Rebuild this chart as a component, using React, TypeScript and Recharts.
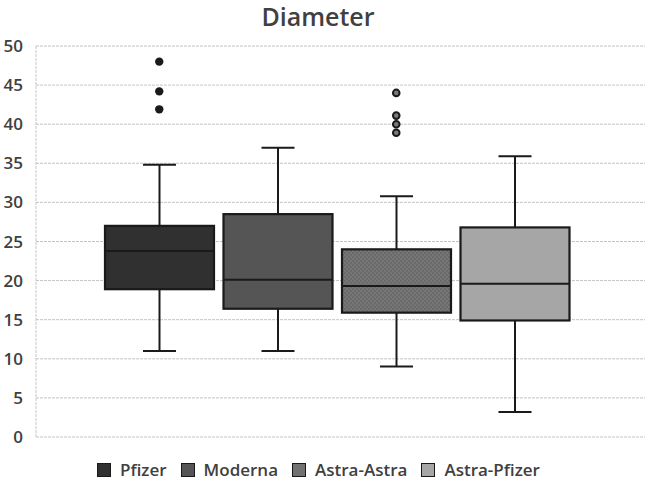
import React from 'react';
import { ComposedChart, Bar, Scatter, XAxis, YAxis, CartesianGrid } from 'recharts';

const categories = ['Pfizer', 'Moderna', 'Astra-Astra', 'Astra-Pfizer'];
const mins = [11, 11, 9, 3.2];
const q1s = [18.9, 16.4, 15.9, 14.9];
const medians = [23.8, 20.1, 19.3, 19.6];
const q3s = [27, 28.5, 24, 26.8];
const maxs = [34.8, 37, 30.8, 35.9];
const outliers: number[][] = [[48, 44.2, 41.9], [], [44, 41.1, 40, 38.9], []];
const yTicks = [0, 5, 10, 15, 20, 25, 30, 35, 40, 45, 50];

const fills = ['#303030', '#555555', 'url(#astraPattern)', '#a6a6a6'];
const legendFills = ['#303030', '#555555', '#727272', '#a6a6a6'];

const rows = categories.map((name, i) => {
  const row: Record<string, any> = {
    name,
    min: mins[i],
    q1: q1s[i],
    median: medians[i],
    q3: q3s[i],
    max: maxs[i],
    idx: i,
  };
  for (let k = 0; k < 4; k++) row['o' + k] = outliers[i][k] ?? null;
  return row;
});

const FONT = '"Open Sans", "Noto Sans", sans-serif';
const INK = '#1a1a1a';

const BoxShape = (props: any) => {
  const { x, y, width, height, payload } = props;
  if (x == null || y == null) return <g />;
  const top = Math.min(y, y + height);
  const h = Math.abs(height);
  const span = payload.max - payload.min;
  const py = (v: number) => top + (h * (payload.max - v)) / span;
  const cx = x + width / 2;
  const cap = 33;
  const yq3 = py(payload.q3);
  const yq1 = py(payload.q1);
  return (
    <g>
      <line x1={cx} x2={cx} y1={top} y2={yq3} stroke={INK} strokeWidth={2} />
      <line x1={cx} x2={cx} y1={yq1} y2={top + h} stroke={INK} strokeWidth={2} />
      <line x1={cx - cap / 2} x2={cx + cap / 2} y1={top} y2={top} stroke={INK} strokeWidth={2} />
      <line x1={cx - cap / 2} x2={cx + cap / 2} y1={top + h} y2={top + h} stroke={INK} strokeWidth={2} />
      <rect x={x} y={yq3} width={width} height={yq1 - yq3} fill={fills[payload.idx]} stroke={INK} strokeWidth={2.2} />
      <line x1={x} x2={x + width} y1={py(payload.median)} y2={py(payload.median)} stroke={INK} strokeWidth={2} />
    </g>
  );
};

const makeOutlier = (key: string) => (props: any) => {
  const { cx, cy, payload } = props;
  if (cx == null || cy == null || payload == null || payload[key] == null) return <g />;
  if (payload.idx === 2) {
    return <circle cx={cx} cy={cy} r={3.3} fill="#7a7a7a" stroke={INK} strokeWidth={2} />;
  }
  return <circle cx={cx} cy={cy} r={4.2} fill={INK} />;
};

export default function App() {
  return (
    <div style={{ position: 'absolute', left: 0, top: 0, width: 649, height: 485, background: '#fff', fontFamily: FONT }}>
      <div
        style={{
          position: 'absolute',
          left: 0,
          top: 0,
          width: 636,
          textAlign: 'center',
          fontSize: 25,
          fontWeight: 600,
          color: '#404040',
          lineHeight: '32px',
        }}
      >
        Diameter
      </div>
      <ComposedChart
        width={649}
        height={485}
        data={rows}
        margin={{ top: 46, right: 4, bottom: 48, left: 0 }}
      >
        <defs>
          <pattern id="astraPattern" width="4" height="4" patternUnits="userSpaceOnUse">
            <rect width="4" height="4" fill="#767676" />
            <rect width="2" height="2" fill="#6a6a6a" />
            <rect x="2" y="2" width="2" height="2" fill="#6a6a6a" />
          </pattern>
        </defs>
        <CartesianGrid horizontal vertical={false} stroke="#c4c4c4" strokeDasharray="3 1" />
        <XAxis dataKey="name" hide padding={{ left: 64, right: 71 }} />
        <YAxis
          domain={[0, 50]}
          ticks={yTicks}
          width={36}
          interval={0}
          tickLine={false}
          tickSize={0}
          tickMargin={13}
          axisLine={{ stroke: '#c4c4c4', strokeDasharray: '3 1' }}
          tick={{ fontSize: 17, fontWeight: 600, fill: '#404040', fontFamily: FONT }}
        />
        <Bar
          dataKey={(d: any) => [d.min, d.max]}
          barSize={109}
          shape={BoxShape}
          isAnimationActive={false}
        />
        {[0, 1, 2, 3].map((k) => (
          <Scatter
            key={k}
            dataKey={'o' + k}
            shape={makeOutlier('o' + k)}
            isAnimationActive={false}
          />
        ))}
      </ComposedChart>
      <div
        style={{
          position: 'absolute',
          left: 97,
          top: 458,
          display: 'flex',
          alignItems: 'center',
          gap: 14,
          fontSize: 17,
          fontWeight: 600,
          color: '#404040',
        }}
      >
        {categories.map((c, i) => (
          <div key={c} style={{ display: 'flex', alignItems: 'center' }}>
            <span
              style={{
                display: 'inline-block',
                width: 12,
                height: 12,
                background: legendFills[i],
                border: `1.5px solid ${INK}`,
                marginRight: 9,
              }}
            />
            <span>{c}</span>
          </div>
        ))}
      </div>
    </div>
  );
}
